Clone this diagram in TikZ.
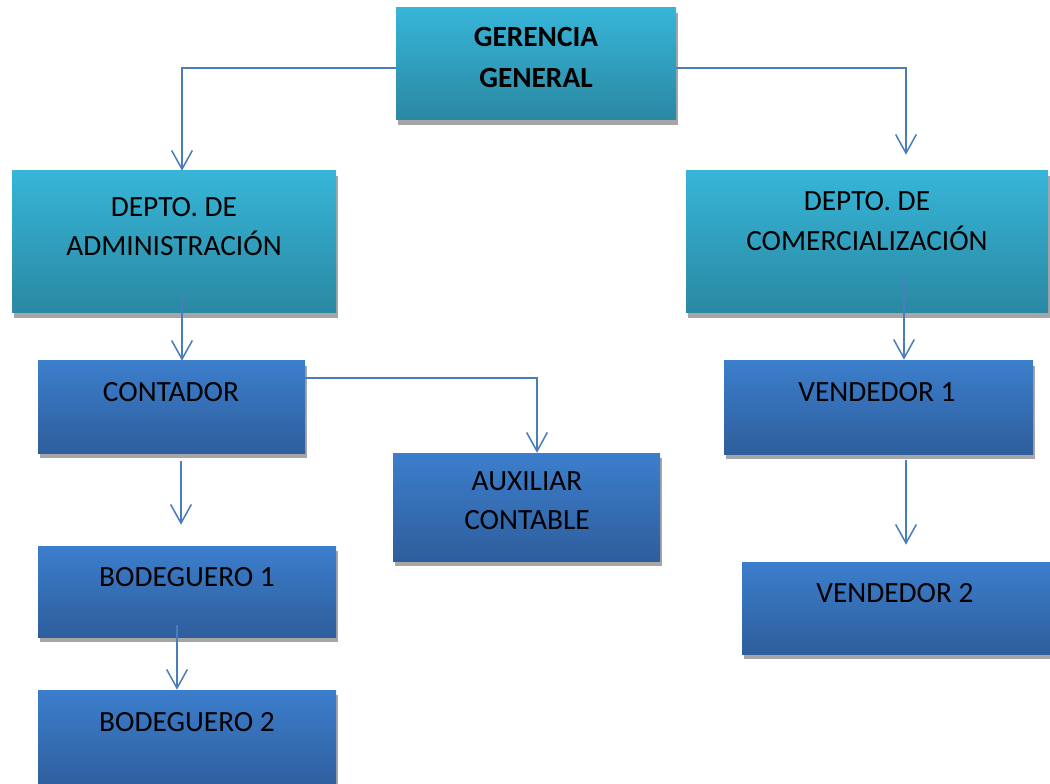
\documentclass[tikz,border=0pt]{standalone}
\usepackage{fontspec}
\setmainfont{Carlito}
\usetikzlibrary{arrows.meta,shadows,calc}

\definecolor{cyanTop}{HTML}{37B5D8}
\definecolor{cyanBot}{HTML}{2A88A2}
\definecolor{blueTop}{HTML}{3C7ECC}
\definecolor{blueBot}{HTML}{2E5E9C}
\definecolor{linkBlue}{HTML}{4A7EBB}
\definecolor{shadowGray}{HTML}{A6A6A6}

\tikzset{
  unitbox/.style={rectangle, inner sep=0pt, draw=none,
    drop shadow={shadow xshift=1.5pt, shadow yshift=-3.5pt, fill=shadowGray, opacity=1}},
  cyanbox/.style={unitbox, top color=cyanTop, bottom color=cyanBot},
  bluebox/.style={unitbox, top color=blueTop, bottom color=blueBot},
  caption/.style={align=center, inner sep=0pt, text=black,
    font=\fontsize{22pt}{29.5pt}\selectfont},
  conn/.style={draw=linkBlue, line width=1.15pt,
    -{Straight Barb[length=14pt, width=15.5pt, line width=1.15pt]}}
}

\begin{document}
\begin{tikzpicture}[x=0.75pt, y=-0.75pt]
  \useasboundingbox (0,0) rectangle (1050,784);
  \clip (0,0) rectangle (1050,784);

  % boxes
  \node[cyanbox, minimum width=210pt, minimum height=84pt] (ger) at (536,64) {};
  \node[cyanbox, minimum width=243pt, minimum height=106.5pt] (adm) at (174,242) {};
  \node[cyanbox, minimum width=271.5pt, minimum height=106.5pt] (com) at (867,242) {};
  \node[bluebox, minimum width=200.25pt, minimum height=69pt] (con) at (171.5,407) {};
  \node[bluebox, minimum width=200.25pt, minimum height=81pt] (aux) at (526.5,507) {};
  \node[bluebox, minimum width=231.75pt, minimum height=69.75pt] (ven1) at (878.5,407.5) {};
  \node[bluebox, minimum width=223.5pt, minimum height=68.25pt] (bod1) at (187,591.5) {};
  \node[bluebox, minimum width=223.5pt, minimum height=75pt] (bod2) at (187,740) {};
  \node[bluebox, minimum width=232.5pt, minimum height=69pt] (ven2) at (897,608) {};

  % captions
  \node[caption, font=\fontsize{22pt}{30.75pt}\selectfont\bfseries] (gerT) at (536,57.5) {GERENCIA\\GENERAL};
  \node[caption] (admT) at (174,226.5) {DEPTO. DE\\ADMINISTRACIÓN};
  \node[caption] (comT) at (867,221) {DEPTO. DE\\COMERCIALIZACIÓN};
  \node[caption] (conT) at (171,392) {CONTADOR};
  \node[caption] (auxT) at (527,501) {AUXILIAR\\CONTABLE};
  \node[caption] (ven1T) at (877,392) {VENDEDOR 1};
  \node[caption] (bod1T) at (187,577) {BODEGUERO 1};
  \node[caption] (bod2T) at (187,722) {BODEGUERO 2};
  \node[caption] (ven2T) at (895,593) {VENDEDOR 2};

  % connectors
  \draw[conn] ($(ger.west)+(0,4)$) -| ($(adm.north)+(8,0)$);
  \draw[conn] ($(ger.east)+(0,4)$) -| ($(com.north)+(39,-16)$);
  \draw[conn] ($(adm.south)+(8,-16)$) -- ($(con.north)+(10.5,0)$);
  \draw[conn] ($(con.north east)+(0,17.5)$) -| ($(aux.north)+(10.5,0)$);
  \draw[conn] ($(con.south)+(9.5,8)$) -- ($(bod1.north)+(-6,-21)$);
  \draw[conn] ($(bod1.south)+(-10,-12)$) -- ($(bod2.north)+(-10,0)$);
  \draw[conn] ($(com.south)+(37,-38)$) -- ($(ven1.north)+(25.5,-1)$);
  \draw[conn] ($(ven1.south)+(27.5,6)$) -- ($(ven2.north)+(9,-17)$);
\end{tikzpicture}
\end{document}
